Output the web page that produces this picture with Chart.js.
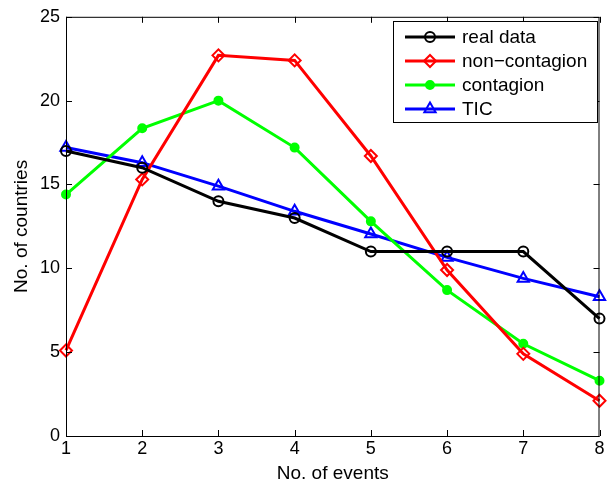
<!DOCTYPE html>
<html>
<head>
<meta charset="utf-8">
<script src="https://cdn.jsdelivr.net/npm/chart.js@4"></script>
<style>
  html, body { margin: 0; padding: 0; background: #fff; }
  #wrap { width: 608px; height: 486px; }
</style>
</head>
<body>
<div id="wrap"><canvas id="chart" width="608" height="486"></canvas></div>
<script>
// data
const events = [1, 2, 3, 4, 5, 6, 7, 8];
const realData = [17, 16, 14, 13, 11, 11, 11, 7];
const nonContagion = [5.1, 15.3, 22.7, 22.4, 16.7, 9.9, 4.9, 2.1];
const contagion = [14.4, 18.35, 20, 17.2, 12.8, 8.7, 5.5, 3.3];
const tic = [17.2, 16.3, 14.9, 13.4, 12.05, 10.65, 9.4, 8.3];
const yTicks = [0, 5, 10, 15, 20, 25];

const FONT = '"Liberation Sans", Arial, Helvetica, sans-serif';

const toPoints = (ys) => ys.map((y, i) => ({ x: events[i], y: y }));

// MATLAB style box, inward ticks and legend inside the axes
const matlabBox = {
  id: 'matlabBox',
  afterDraw(chart) {
    const ctx = chart.ctx;
    const a = chart.chartArea;
    const xs = chart.scales.x;
    const ys = chart.scales.y;
    ctx.save();
    ctx.strokeStyle = '#000';
    ctx.lineWidth = 1;
    ctx.strokeRect(a.left + 0.5, a.top + 0.5, a.right - a.left - 1, a.bottom - a.top);
    const tl = 6;
    ctx.beginPath();
    events.forEach(v => {
      const px = Math.round(xs.getPixelForValue(v)) + 0.5;
      ctx.moveTo(px, a.bottom); ctx.lineTo(px, a.bottom - tl);
      ctx.moveTo(px, a.top); ctx.lineTo(px, a.top + tl);
    });
    yTicks.forEach(v => {
      const py = Math.round(ys.getPixelForValue(v)) + 0.5;
      ctx.moveTo(a.left, py); ctx.lineTo(a.left + tl, py);
      ctx.moveTo(a.right, py); ctx.lineTo(a.right - tl, py);
    });
    ctx.stroke();

    // legend
    const bx = 393, by = 21, bw = 204, bh = 101;
    ctx.fillStyle = '#fff';
    ctx.fillRect(bx, by, bw, bh);
    ctx.strokeRect(bx + 0.5, by + 0.5, bw, bh);
    ctx.font = '19px ' + FONT;
    ctx.textBaseline = 'middle';
    chart.data.datasets.forEach((ds, i) => {
      const cy = by + 16 + i * 24;
      ctx.strokeStyle = ds.borderColor;
      ctx.lineWidth = ds.borderWidth;
      ctx.beginPath();
      ctx.moveTo(bx + 12, cy); ctx.lineTo(bx + 62, cy);
      ctx.stroke();
      ctx.strokeStyle = ds.pointBorderColor;
      ctx.fillStyle = ds.pointBackgroundColor;
      ctx.lineWidth = ds.pointBorderWidth;
      Chart.helpers.drawPoint(ctx, {
        pointStyle: ds.pointStyle,
        radius: ds.pointRadius,
        borderWidth: ds.pointBorderWidth
      }, bx + 37, cy);
      ctx.fillStyle = '#000';
      ctx.fillText(ds.label, bx + 69, cy + 1);
    });
    ctx.restore();
  }
};

const ds = (label, ys, color, style, radius, filled) => ({
  label: label,
  data: toPoints(ys),
  borderColor: color,
  backgroundColor: filled ? color : 'rgba(255,255,255,0)',
  borderWidth: 3,
  pointStyle: style,
  pointRadius: radius,
  pointHoverRadius: radius,
  pointBorderWidth: 2,
  pointBorderColor: color,
  pointBackgroundColor: filled ? color : 'rgba(255,255,255,0)',
  tension: 0
});

const datasets = [
  ds('real data', realData, '#000000', 'circle', 5, false),
  ds('non\u2212contagion', nonContagion, '#ff0000', 'rectRot', 6, false),
  ds('contagion', contagion, '#00ff00', 'circle', 4, true),
  ds('TIC', tic, '#0000ff', 'triangle', 6.5, false)
];

new Chart(document.getElementById('chart'), {
  type: 'line',
  data: { datasets: datasets },
  options: {
    responsive: false,
    animation: false,
    clip: false,
    layout: { padding: { top: 14, right: 4, left: 0, bottom: 0 } },
    plugins: { legend: { display: false }, tooltip: { enabled: false } },
    scales: {
      x: {
        type: 'linear',
        min: 1,
        max: 8,
        afterBuildTicks(s) { s.ticks = events.map(v => ({ value: v })); },
        afterFit(s) { s.height = 50; },
        grid: { display: false, drawTicks: false },
        border: { display: false },
        ticks: { color: '#000', font: { family: FONT, size: 18 }, padding: 2, maxRotation: 0 },
        title: { display: true, text: 'No. of events', color: '#000', font: { family: FONT, size: 19 }, padding: { top: 0, bottom: 1 } }
      },
      y: {
        min: 0,
        max: 25,
        afterBuildTicks(s) { s.ticks = yTicks.map(v => ({ value: v })); },
        afterFit(s) { s.width = 66; },
        grid: { display: false, drawTicks: false },
        border: { display: false },
        ticks: { color: '#000', font: { family: FONT, size: 18 }, padding: 6 },
        title: { display: true, text: 'No. of countries', color: '#000', font: { family: FONT, size: 19 }, padding: { top: 10, bottom: 2 } }
      }
    }
  },
  plugins: [matlabBox]
});
</script>
</body>
</html>
